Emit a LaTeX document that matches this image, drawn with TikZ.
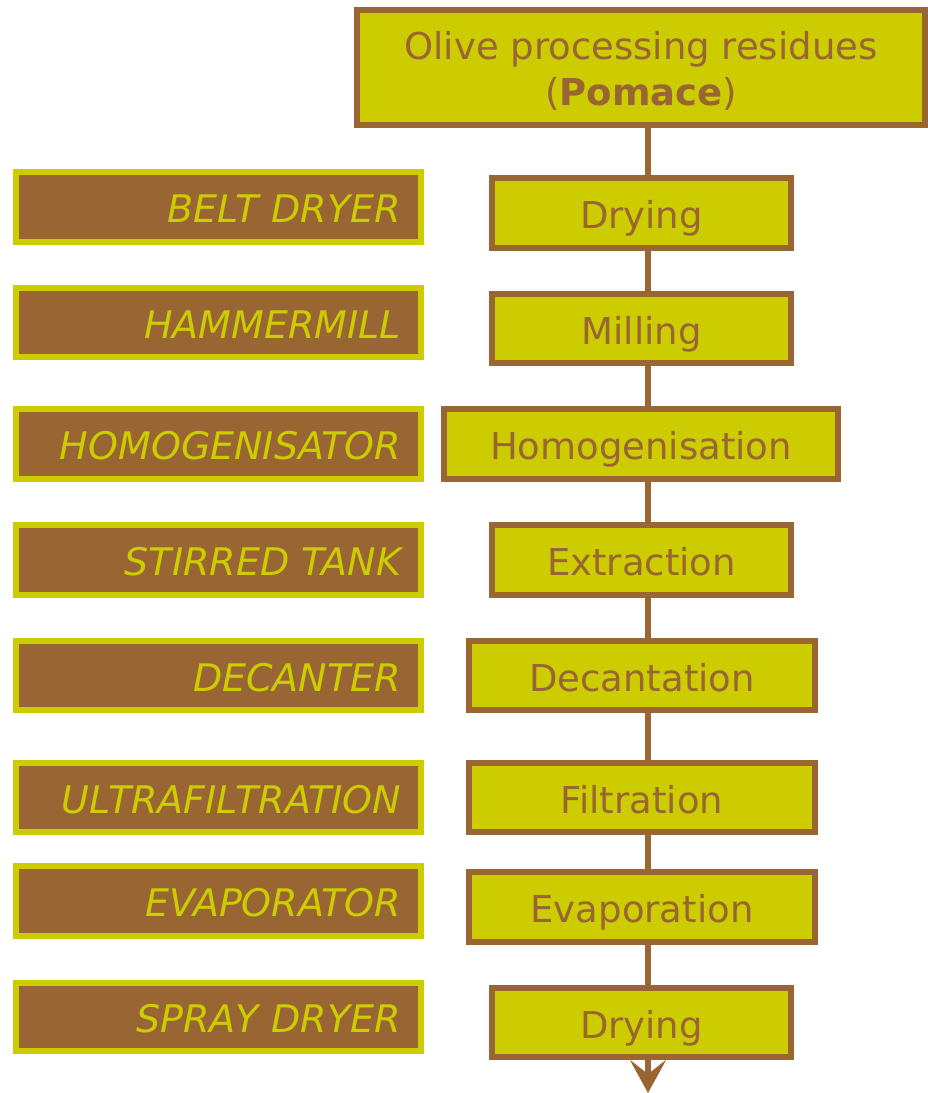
\documentclass[tikz,border=0pt]{standalone}
\usepackage{fontspec}
\setmainfont{DejaVu Sans}
\usetikzlibrary{arrows.meta}
\definecolor{brn}{HTML}{996633}
\definecolor{olv}{HTML}{CCCC00}
\begin{document}
\begin{tikzpicture}[x=1pt,y=-1pt,
  procbox/.style={draw=brn, fill=olv, line width=6pt, text=brn, inner sep=0pt,
    font=\fontsize{37}{46}\selectfont, text height=31pt, text depth=0pt},
  equipbox/.style={draw=olv, fill=brn, line width=6pt, text=olv, inner xsep=20pt, inner ysep=0pt,
    font=\fontsize{38}{46}\selectfont\itshape, text height=31.5pt, text depth=0pt,
    minimum width=405pt, minimum height=70pt, text width=365pt, align=right},
  spine/.style={draw=brn, line width=6pt}]
\useasboundingbox (0,0) rectangle (928,1093);
\coordinate (sp) at (648,0);
% top box
\node[procbox, minimum width=568pt, minimum height=115pt, text height=, text depth=]
  (top) at (641,67.5) {\raisebox{-6pt}[\height][\depth]{\begin{tabular}{@{}c@{}}Olive processing residues\\(\textbf{Pomace})\end{tabular}}};
% process boxes
\node[procbox, minimum width=299pt, minimum height=70pt] (d1) at (641.5,213) {Drying};
\node[procbox, minimum width=299pt, minimum height=69pt] (mil) at (641.5,328.5) {Milling};
\node[procbox, minimum width=394pt, minimum height=70pt] (hom) at (641,444) {Homogenisation};
\node[procbox, minimum width=299pt, minimum height=70pt] (ext) at (641.5,560) {Extraction};
\node[procbox, minimum width=346pt, minimum height=69pt] (dec) at (642,675.5) {Decantation};
\node[procbox, minimum width=346pt, minimum height=69pt] (fil) at (642,797.5) {Filtration};
\node[procbox, minimum width=346pt, minimum height=70pt] (eva) at (642,907) {Evaporation};
\node[procbox, minimum width=299pt, minimum height=69pt] (d2) at (641.5,1022.5) {Drying};
% equipment boxes
\node[equipbox] (e1) at (218.5,207) {BELT DRYER};
\node[equipbox, minimum height=69pt] (e2) at (218.5,322.5) {HAMMERMILL};
\node[equipbox] (e3) at (218.5,444) {HOMOGENISATOR};
\node[equipbox] (e4) at (218.5,560) {STIRRED TANK};
\node[equipbox, minimum height=69pt] (e5) at (218.5,675.5) {DECANTER};
\node[equipbox, minimum height=69pt] (e6) at (218.5,797.5) {ULTRAFILTRATION};
\node[equipbox] (e7) at (218.5,901) {EVAPORATOR};
\node[equipbox, minimum height=68pt] (e8) at (218.5,1017) {SPRAY DRYER};
% connectors
\coordinate (endpt) at (648,1093);
\draw[spine] (top.south -| sp) -- (d1.north -| sp);
\draw[spine] (d1.south -| sp) -- (mil.north -| sp);
\draw[spine] (mil.south -| sp) -- (hom.north -| sp);
\draw[spine] (hom.south -| sp) -- (ext.north -| sp);
\draw[spine] (ext.south -| sp) -- (dec.north -| sp);
\draw[spine] (dec.south -| sp) -- (fil.north -| sp);
\draw[spine] (fil.south -| sp) -- (eva.north -| sp);
\draw[spine] (eva.south -| sp) -- (d2.north -| sp);
\draw[spine, -{Stealth[length=33pt, width=36pt, inset=14pt]}] (d2.south -| sp) -- (endpt);
\end{tikzpicture}
\end{document}
